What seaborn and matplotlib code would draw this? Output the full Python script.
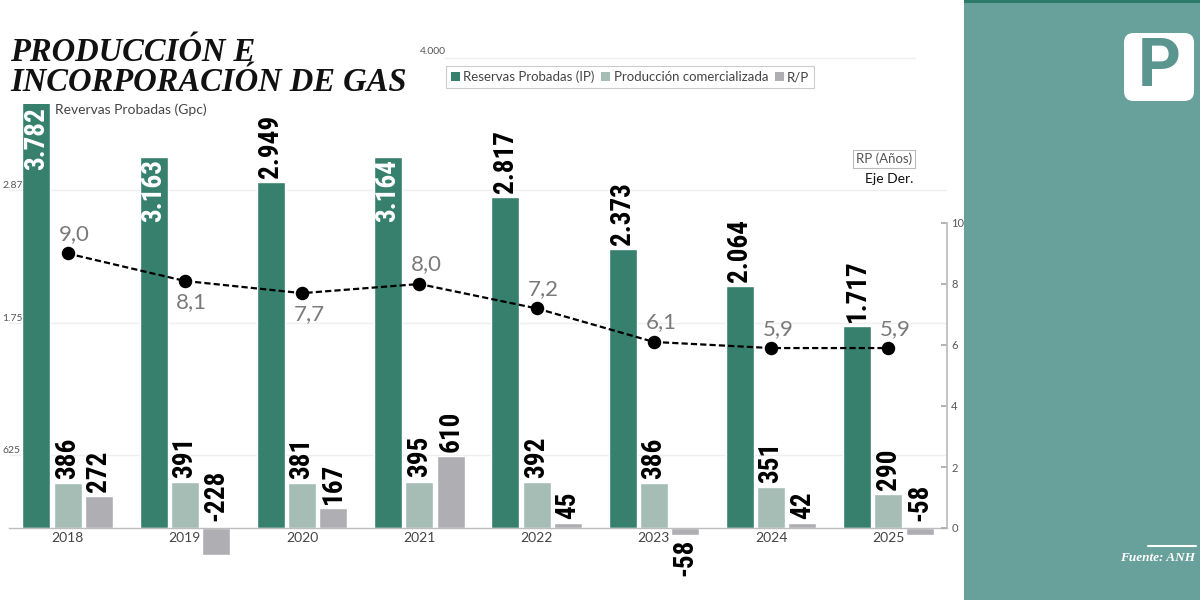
import numpy as np
import pandas as pd
import matplotlib
matplotlib.use("Agg")
import matplotlib.pyplot as plt
import seaborn as sns
from matplotlib.patches import Rectangle, FancyBboxPatch, Patch
from matplotlib.lines import Line2D
from matplotlib import font_manager as fm

# ---------------- data ----------------
years = ["2018", "2019", "2020", "2021", "2022", "2023", "2024", "2025"]
reservas = [3782, 3163, 2949, 3164, 2817, 2373, 2064, 1717]
produccion = [386, 391, 381, 395, 392, 386, 351, 290]
incorporacion = [272, -228, 167, 610, 45, -58, 42, -58]
rp_anios = [9.0, 8.1, 7.7, 8.0, 7.2, 6.1, 5.9, 5.9]

reservas_labels = ["3.782", "3.163", "2.949", "3.164", "2.817", "2.373", "2.064", "1.717"]
produccion_labels = ["386", "391", "381", "395", "392", "386", "351", "290"]
incorporacion_labels = ["272", "-228", "167", "610", "45", "-58", "42", "-58"]
rp_labels = ["9,0", "8,1", "7,7", "8,0", "7,2", "6,1", "5,9", "5,9"]

series_names = ["Reservas Probadas (IP)", "Producción comercializada", "R/P"]
colors = ["#37806e", "#a6bdb5", "#afaeb3"]

left_ticks = [625, 1750, 2875]
left_tick_labels = ["625", "1.750", "2.875"]
right_ticks = [0, 2, 4, 6, 8, 10]

# label placement flags (style)
reservas_inside = [True, True, False, True, False, False, False, False]
rp_above = [True, False, False, True, True, True, True, True]
incorp_below = [False, False, False, False, False, True, False, False]

# ---------------- setup ----------------
sns.set_theme(style="white")
plt.rcParams["font.family"] = ["Lato", "DejaVu Sans"]

# find a condensed bold sans for the bar labels, if one is installed
bar_fp = None
for fam in ["Roboto Condensed", "Noto Sans", "Open Sans", "Liberation Sans Narrow"]:
    try:
        p = fm.findfont(fm.FontProperties(family=fam, weight="bold", stretch="condensed"),
                        fallback_to_default=False)
        if "ond" in p or "arrow" in p:
            bar_fp = p
            break
    except Exception:
        pass
if bar_fp is not None:
    bar_font = dict(fontproperties=fm.FontProperties(fname=bar_fp, size=19.5))
else:
    bar_font = dict(fontproperties=fm.FontProperties(family="Roboto", weight="bold", size=17))

W, H = 1200, 600
fig = plt.figure(figsize=(12, 6), dpi=100)
fig.patch.set_facecolor("white")

def fx(x):
    return x / W

def fy(y):
    return 1 - y / H

ax_left, ax_right, ax_top, ax_bot, zero_px = 9, 947, 104, 590, 528
ax = fig.add_axes([fx(ax_left), fy(ax_bot), (ax_right - ax_left) / W, (ax_bot - ax_top) / H])

df = pd.DataFrame({
    "year": years * 3,
    "serie": np.repeat(series_names, len(years)),
    "valor": reservas + produccion + incorporacion,
})

sns.barplot(data=df, x="year", y="valor", hue="serie", hue_order=series_names,
            palette=colors, saturation=1, width=0.8, gap=0.1, ax=ax,
            legend=False, errorbar=None)

scale_l = 0.1174  # px per unit
ax.set_ylim(-(ax_bot - zero_px) / scale_l, (zero_px - ax_top) / scale_l)
ax.set_xlim(-0.5, len(years) - 0.5)
ax.set_xlabel("")
ax.set_ylabel("")
ax.patch.set_alpha(0)

for s in ["top", "right", "left"]:
    ax.spines[s].set_visible(False)
ax.spines["bottom"].set_position(("data", 0))
ax.spines["bottom"].set_color("#bdbdbd")
ax.spines["bottom"].set_linewidth(1)

ax.set_yticks(left_ticks, labels=left_tick_labels)
for lbl in ax.get_yticklabels():
    lbl.set_horizontalalignment("left")
    lbl.set_verticalalignment("bottom")
ax.tick_params(axis="y", length=0, pad=5, labelsize=7.5, labelcolor="#555555")
ax.yaxis.grid(True, color="#efefef", lw=1)
ax.set_axisbelow(True)
ax.axhline(4000, xmin=(445 - ax_left) / (ax_right - ax_left), xmax=(915 - ax_left) / (ax_right - ax_left),
           color="#efefef", lw=1, clip_on=False, zorder=0)

ax.tick_params(axis="x", length=0, pad=3, labelsize=10, labelcolor="#444444")
ax.set_xticks(np.arange(0.5, len(years) - 1, 1), minor=True)
ax.tick_params(axis="x", which="minor", direction="in", length=6, width=1, color="#cccccc")

# ---------------- bar labels ----------------
ytop = ax.get_ylim()[1]
label_sets = [reservas_labels, produccion_labels, incorporacion_labels]
value_sets = [reservas, produccion, incorporacion]
for k, cont in enumerate(ax.containers):
    for i, bar in enumerate(cont):
        xc = bar.get_x() + bar.get_width() / 2
        v = value_sets[k][i]
        txt = label_sets[k][i]
        if k == 0 and reservas_inside[i]:
            ax.annotate(txt, (xc, min(v, ytop)), xytext=(0, -2), textcoords="offset points",
                        rotation=90, ha="center", va="top", color="white", **bar_font)
        elif v >= 0:
            ax.annotate(txt, (xc, v), xytext=(0, 3), textcoords="offset points",
                        rotation=90, ha="center", va="bottom", color="black", **bar_font)
        elif incorp_below[i]:
            ax.annotate(txt, (xc, v), xytext=(0, -3), textcoords="offset points",
                        rotation=90, ha="center", va="top", color="black", **bar_font)
        else:
            ax.annotate(txt, (xc, 0), xytext=(0, 5), textcoords="offset points",
                        rotation=90, ha="center", va="bottom", color="black", **bar_font)

# ---------------- R/P line (right axis) ----------------
ax2 = ax.twinx()
sns.pointplot(x=years, y=rp_anios, ax=ax2, color="black", linestyles="--", markers="o",
              markersize=8.5, linewidth=1.6, errorbar=None)
scale_r = 30.5
ax2.set_ylim(-(ax_bot - zero_px) / scale_r, (zero_px - ax_top) / scale_r)
ax2.set_xlim(-0.5, len(years) - 0.5)
ax2.set_ylabel("")
for ln in ax2.lines:
    ln.set_dashes((2.8, 1.4))
for s in ["top", "left", "bottom"]:
    ax2.spines[s].set_visible(False)
ax2.spines["right"].set_color("#bdbdbd")
ax2.spines["right"].set_bounds(0, 10)
ax2.set_yticks(right_ticks, labels=[str(t) for t in right_ticks])
ax2.tick_params(axis="y", direction="in", length=4, color="#aaaaaa", labelsize=8,
                labelcolor="#555555", pad=3)
ax2.grid(False)

xs = ax2.lines[0].get_xdata()
for i, (x, v) in enumerate(zip(xs, rp_anios)):
    dy = 14 if rp_above[i] else -15
    ax2.annotate(rp_labels[i], (x, v), xytext=(5, dy), textcoords="offset points",
                 ha="center", va="center", fontsize=16, color="#7a7a7a", fontweight="normal")

# ---------------- texts ----------------
fig.text(fx(10), fy(37), "PRODUCCIÓN E\nINCORPORACIÓN DE GAS", ha="left", va="top",
         family="Liberation Serif", style="italic", weight="bold", size=23.5,
         linespacing=0.95, color="#111111")
fig.text(fx(55), fy(110), "Revervas Probadas (Gpc)", ha="left", va="center", size=10,
         color="#444444")
fig.text(fx(420), fy(52), "4.000", ha="left", va="center", size=7.5, color="#555555")

fig.text(fx(884), fy(159), "RP (Años)", ha="center", va="center", size=9.5, color="#555555",
         bbox=dict(facecolor="white", edgecolor="#bbbbbb", lw=0.8, boxstyle="square,pad=0.2"))
fig.text(fx(913), fy(179), "Eje Der.", ha="right", va="center", size=10, color="#111111")

handles = [Patch(facecolor=c, edgecolor="none", label=n) for c, n in zip(colors, series_names)]
leg = fig.legend(handles=handles, loc="center", bbox_to_anchor=(fx(630), fy(77)), ncol=3,
                 frameon=True, fancybox=False, edgecolor="#cccccc", framealpha=1,
                 fontsize=9.5, handlelength=0.7, handleheight=0.7, handletextpad=0.25,
                 columnspacing=0.5, borderpad=0.35, borderaxespad=0)
leg.get_frame().set_linewidth(0.8)
for t in leg.get_texts():
    t.set_color("#444444")

# ---------------- right panel ----------------
fig.add_artist(Rectangle((fx(964), 0), (W - 964) / W, 1, transform=fig.transFigure,
                         facecolor="#68a09b", edgecolor="none", zorder=0))
fig.add_artist(Rectangle((fx(964), fy(3)), (W - 964) / W, 3 / H, transform=fig.transFigure,
                         facecolor="#2e7a68", edgecolor="none", zorder=1))
fig.add_artist(FancyBboxPatch((fx(1124), fy(101)), 70 / W, 68 / H,
                              boxstyle="round,pad=0,rounding_size=0.008", mutation_aspect=2,
                              transform=fig.transFigure, facecolor="white", edgecolor="none",
                              zorder=2))
fig.text(fx(1159), fy(68), "P", ha="center", va="center", size=48, weight="bold",
         color="#5a968f", family="Roboto", zorder=3)
fig.add_artist(Line2D([fx(1148), fx(1196)], [fy(546), fy(546)], transform=fig.transFigure,
                      color="white", lw=1.5, zorder=2))
fig.text(fx(1195), fy(558), "Fuente: ANH", ha="right", va="center", color="white",
         family="Liberation Serif", style="italic", weight="bold", size=9.5, zorder=3)

fig.savefig("out.png", dpi=100)
